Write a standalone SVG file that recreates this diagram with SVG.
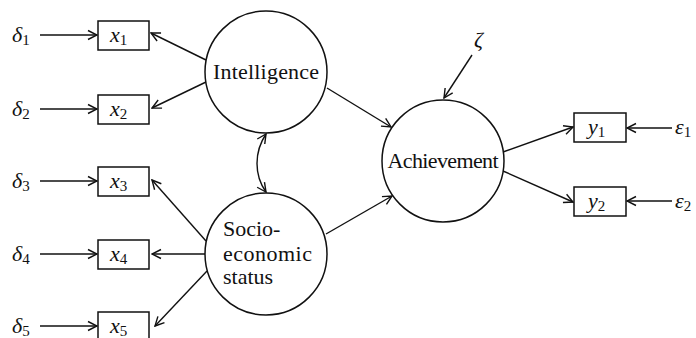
<svg xmlns="http://www.w3.org/2000/svg" width="696" height="338" viewBox="0 0 696 338">
<defs>
<marker id="ah" viewBox="0 0 12 12" refX="11" refY="6" markerWidth="12" markerHeight="12" markerUnits="userSpaceOnUse" orient="auto-start-reverse">
<path d="M2,1.5 L11,6 L2,10.5" fill="none" stroke="#111" stroke-width="1.4"/>
</marker>
<style>
.n{fill:#fff;stroke:#111;stroke-width:1.5}
.c{fill:none;stroke:#111;stroke-width:1.4;marker-end:url(#ah)}
.t{font-family:"Liberation Serif",serif;font-size:22px;fill:#111}
.v{font-family:"Liberation Serif",serif;font-size:22px;font-style:italic;fill:#111}
.s{font-size:15px;font-style:normal}
</style>
</defs>
<rect width="696" height="338" fill="#fff"/>
<g id="connectors">
<line class="c" x1="40" y1="35" x2="97" y2="35"/>
<line class="c" x1="40" y1="109" x2="97" y2="109"/>
<line class="c" x1="40" y1="181" x2="97" y2="181"/>
<line class="c" x1="40" y1="254" x2="97" y2="254"/>
<line class="c" x1="40" y1="326" x2="97" y2="326"/>
<line class="c" x1="206" y1="60" x2="151" y2="33"/>
<line class="c" x1="206" y1="82" x2="152" y2="108"/>
<line class="c" x1="206" y1="241" x2="152" y2="180"/>
<line class="c" x1="205" y1="254" x2="152" y2="254"/>
<line class="c" x1="207" y1="271" x2="155" y2="326"/>
<line class="c" x1="327" y1="88" x2="391" y2="127"/>
<line class="c" x1="326" y1="234" x2="392" y2="196"/>
<line class="c" x1="503" y1="152" x2="573" y2="127"/>
<line class="c" x1="503" y1="171" x2="573" y2="202"/>
<line class="c" x1="672" y1="128" x2="627" y2="128"/>
<line class="c" x1="672" y1="201" x2="627" y2="201"/>
<line class="c" x1="472" y1="55" x2="444" y2="98"/>
<path class="c" d="M266,134 C254,152 254,175 266,192" style="marker-start:url(#ah)"/>
</g>
<g id="intelligence"><circle class="n" cx="266" cy="72" r="61"/><text class="t" x="266" y="79" text-anchor="middle" textLength="106">Intelligence</text></g>
<g id="ses"><circle class="n" cx="266" cy="254" r="61"/>
<text class="t" x="223" y="236">Socio-</text><text class="t" x="223" y="261" textLength="89">economic</text><text class="t" x="223" y="284">status</text></g>
<g id="achievement"><circle class="n" cx="443" cy="161" r="61"/><text class="t" x="443" y="168" text-anchor="middle" textLength="111">Achievement</text></g>
<g id="x1"><rect class="n" x="98" y="21" width="51" height="29"/><text class="v" x="110" y="42">x<tspan class="s" dy="3">1</tspan></text></g>
<g id="x2"><rect class="n" x="98" y="95" width="51" height="29"/><text class="v" x="110" y="116">x<tspan class="s" dy="3">2</tspan></text></g>
<g id="x3"><rect class="n" x="98" y="167" width="51" height="29"/><text class="v" x="110" y="188">x<tspan class="s" dy="3">3</tspan></text></g>
<g id="x4"><rect class="n" x="98" y="240" width="51" height="29"/><text class="v" x="110" y="261">x<tspan class="s" dy="3">4</tspan></text></g>
<g id="x5"><rect class="n" x="98" y="312" width="51" height="29"/><text class="v" x="110" y="333">x<tspan class="s" dy="3">5</tspan></text></g>
<g id="y1"><rect class="n" x="574" y="113" width="52" height="29"/><text class="v" x="588" y="134">y<tspan class="s" dy="3">1</tspan></text></g>
<g id="y2"><rect class="n" x="574" y="187" width="52" height="29"/><text class="v" x="588" y="208">y<tspan class="s" dy="3">2</tspan></text></g>
<g id="d1"><text class="v" x="12" y="42">δ<tspan class="s" dy="3">1</tspan></text></g>
<g id="d2"><text class="v" x="12" y="116">δ<tspan class="s" dy="3">2</tspan></text></g>
<g id="d3"><text class="v" x="12" y="188">δ<tspan class="s" dy="3">3</tspan></text></g>
<g id="d4"><text class="v" x="12" y="261">δ<tspan class="s" dy="3">4</tspan></text></g>
<g id="d5"><text class="v" x="12" y="333">δ<tspan class="s" dy="3">5</tspan></text></g>
<g id="e1"><text class="v" x="675" y="134">ε<tspan class="s" dy="3">1</tspan></text></g>
<g id="e2"><text class="v" x="675" y="208">ε<tspan class="s" dy="3">2</tspan></text></g>
<g id="zeta"><text class="v" x="474" y="47">ζ</text></g>
</svg>
